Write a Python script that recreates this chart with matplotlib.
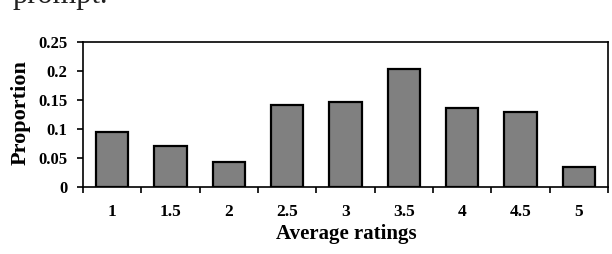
import matplotlib
matplotlib.use("Agg")
import matplotlib.pyplot as plt
from matplotlib.ticker import FixedLocator

ratings = ["1", "1.5", "2", "2.5", "3", "3.5", "4", "4.5", "5"]
proportion = [0.094, 0.071, 0.043, 0.141, 0.146, 0.204, 0.137, 0.130, 0.035]
yticks = [0, 0.05, 0.1, 0.15, 0.2, 0.25]
ytick_labels = ["0", "0.05", "0.1", "0.15", "0.2", "0.25"]

serif = ["Liberation Serif", "DejaVu Serif"]

fig = plt.figure(figsize=(6.12, 2.54), dpi=100)
ax = fig.add_axes([83 / 612, 67 / 254, 525 / 612, 145 / 254])

# clipped line of the surrounding document text
fig.text(13 / 612, 251 / 254, "prompt.", family=serif, fontsize=22,
         color="#222222", va="baseline", ha="left")

x = list(range(len(ratings)))
ax.bar(x, proportion, width=0.555, color="#808080", edgecolor="black",
       linewidth=1.6, zorder=2)

ax.set_xlim(-0.5, len(ratings) - 0.5)
ax.set_ylim(0, 0.25)
ax.set_yticks(yticks)
ax.set_yticklabels(ytick_labels)

ax.set_xticks(x)
ax.set_xticklabels(ratings)
ax.xaxis.set_minor_locator(FixedLocator([i - 0.5 for i in range(len(ratings) + 1)]))

ax.tick_params(axis="x", which="major", length=0, pad=12)
ax.tick_params(axis="x", which="minor", length=4, width=1.2, direction="out")
ax.tick_params(axis="y", which="major", length=4, width=1.2, direction="out", pad=7)

for lab in ax.get_xticklabels():
    lab.set_family(serif)
    lab.set_fontweight("bold")
    lab.set_fontsize(12.5)
for lab in ax.get_yticklabels():
    lab.set_family(serif)
    lab.set_fontweight("bold")
    lab.set_fontsize(12)

for sp in ax.spines.values():
    sp.set_linewidth(1.2)
    sp.set_color("black")

ax.set_xlabel("Average ratings", family=serif, fontweight="bold", fontsize=15)
ax.set_ylabel("Proportion", family=serif, fontweight="bold", fontsize=16)
ax.xaxis.set_label_coords(0.501, -0.255)
ax.yaxis.set_label_coords(-0.099, 0.51)

fig.savefig("out.png", dpi=100)
plt.close(fig)
